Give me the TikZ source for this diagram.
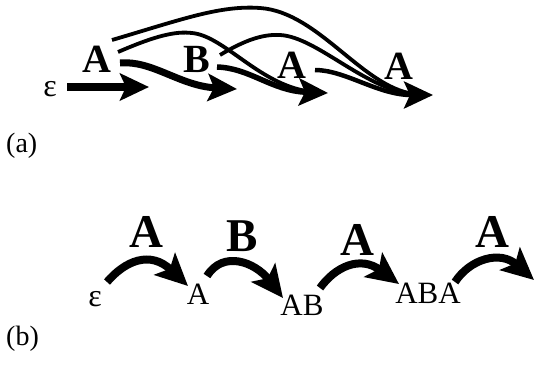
\documentclass[tikz,border=0pt]{standalone}
\usepackage{fontspec}
\setmainfont{Liberation Serif}
\usetikzlibrary{arrows.meta}
\begin{document}
\begin{tikzpicture}[x=1pt,y=-1pt,
  biga/.style={font=\fontsize{40}{40}\selectfont\bfseries, inner sep=0pt, anchor=base},
  bigb/.style={font=\fontsize{47}{47}\selectfont\bfseries, inner sep=0pt, anchor=base},
  statelbl/.style={font=\fontsize{31}{31}\selectfont, inner sep=0pt, anchor=base},
  epslbl/.style={font=\fontsize{32}{32}\selectfont, inner sep=0pt, anchor=base},
  sublabel/.style={font=\fontsize{28}{28}\selectfont, inner sep=0pt, anchor=base west},
  heada/.style={-{Stealth[length=29pt,width=27pt,inset=6pt]}},
  headb/.style={-{Stealth[length=32pt,width=30pt,inset=7pt]}},
  thinln/.style={line width=3.8pt, shorten >=14pt},
]
\useasboundingbox (0,0) rectangle (534,365);
% ---------- (a) ----------
\node[epslbl] (ea) at (50,96) {ε};
\node[biga] (a1) at (97,72) {A};
\node[biga] (b1) at (197,72) {B};
\node[biga] (a2) at (292,78) {A};
\node[biga] (a3) at (399,79) {A};
\node[sublabel] (la) at (6,152) {(a)};

\coordinate (s0) at (67,87);
\coordinate (t1) at (149,87);
\coordinate (t2) at (237,89);
\coordinate (t3) at (328,93);
\coordinate (t4) at (433,95);
\coordinate (sa1) at (120,63);
\coordinate (sa1m) at (118,52);
\coordinate (sa1h) at (112,40);
\coordinate (sb1) at (217,67);
\coordinate (sb1h) at (220,55);
\coordinate (sa2) at (315,70);

% thin lines (no heads)
\draw[thinln] (sa1h) .. controls (180,20) and (220,5) .. (260,8)
   .. controls (320,12) and (365,92) .. (t4);
\draw[thinln] (sb1h) .. controls (245,40) and (263,34) .. (280,35)
   .. controls (318,37) and (368,93) .. (t4);
\draw[thinln] (sa1m) .. controls (155,36) and (175,31) .. (192,33)
   .. controls (225,36) and (262,88) .. (t3);
% thick lines with heads
\draw[line width=8.5pt, heada] (s0) -- (t1);
\draw[line width=7pt, heada] (sa1) .. controls (152,60) and (180,86) .. (t2);
\draw[line width=5.5pt, heada] (sb1) .. controls (250,68) and (272,91) .. (t3);
\draw[line width=4.5pt, heada] (sa2) .. controls (345,70) and (378,95) .. (t4);

% ---------- (b) ----------
\node[epslbl] (eb) at (95,306) {ε};
\node[statelbl] (nA) at (198,304) {A};
\node[statelbl] (nAB) at (302,315) {AB};
\node[statelbl] (nABA) at (428,303) {ABA};
\node[bigb] (la1) at (146,247) {A};
\node[bigb] (lb1) at (242,251) {B};
\node[bigb] (la2) at (357,255) {A};
\node[bigb] (la3) at (492,247) {A};
\node[sublabel] (lb) at (6,345) {(b)};

\coordinate (u0) at (107,282);
\coordinate (v0) at (188,286);
\coordinate (u1) at (207,276);
\coordinate (v1) at (283,298);
\coordinate (u2) at (320,288);
\coordinate (v2) at (399,284);
\coordinate (u3) at (455,282);
\coordinate (v3) at (534,280);

\draw[line width=8pt, headb] (u0) .. controls (125,261) and (150,250) .. (v0);
\draw[line width=8pt, headb] (u1) .. controls (223,250) and (255,262) .. (v1);
\draw[line width=8pt, headb] (u2) .. controls (335,267) and (360,255) .. (v2);
\draw[line width=8pt, headb] (u3) .. controls (470,259) and (500,250) .. (v3);
\end{tikzpicture}
\end{document}
